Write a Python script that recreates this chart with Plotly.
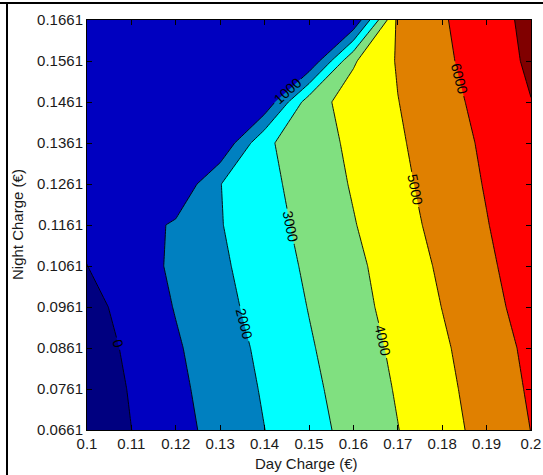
import plotly.graph_objects as go

# ---- data ----
day_charge = [0.10, 0.11, 0.12, 0.13, 0.14, 0.15, 0.16, 0.17, 0.18, 0.19, 0.20]
night_charge = [0.0661, 0.0761, 0.0861, 0.0961, 0.1061, 0.1161,
                0.1261, 0.1361, 0.1461, 0.1561, 0.1661]

# one row per night charge value (bottom to top), one column per day charge value
row_00661 = [-681, -5, 671, 1337, 1993, 2658, 3319, 3979, 4652, 5328, 6011]
row_00761 = [-627, 74, 774, 1441, 2095, 2778, 3433, 4080, 4753, 5431, 6114]
row_00861 = [-509, 191, 890, 1548, 2211, 2905, 3546, 4191, 4864, 5537, 6213]
row_00961 = [-333, 361, 1050, 1706, 2367, 3032, 3681, 4342, 5015, 5700, 6385]
row_01061 = [-9, 565, 1162, 1835, 2498, 3151, 3784, 4458, 5149, 5831, 6514]
row_01161 = [200, 450, 1159, 1952, 2618, 3283, 3948, 4629, 5302, 5960, 6622]
row_01261 = [150, 120, 100, 1980, 2721, 3416, 4084, 4761, 5420, 6069, 6731]
row_01361 = [150, 120, 100, 100, 2850, 3500, 4210, 4873, 5522, 6169, 6831]
row_01461 = [150, 120, 100, 100, 213, 3546, 4430, 4979, 5652, 6323, 6980]
row_01561 = [150, 120, 100, 100, 100, 100, 3900, 5085, 5805, 6489, 7162]
row_01661 = [150, 120, 100, 100, 100, 100, 100, 5220, 5905, 6576, 7248]

x_tick_labels = ["0.1", "0.11", "0.12", "0.13", "0.14", "0.15",
                 "0.16", "0.17", "0.18", "0.19", "0.2"]
y_tick_labels = ["0.0661", "0.0761", "0.0861", "0.0961", "0.1061", "0.1161",
                 "0.1261", "0.1361", "0.1461", "0.1561", "0.1661"]

level_start, level_end, level_step = 0, 7000, 1000

# fill colour of each band: below 0, 0-1000, ..., 6000-7000, above 7000
band_colors = ["#000080", "#0000C0", "#0080C0", "#00FFFF", "#80E080",
               "#FFFF00", "#E08000", "#FF0000", "#800000"]

z = [row_00661, row_00761, row_00861, row_00961, row_01061, row_01161,
     row_01261, row_01361, row_01461, row_01561, row_01661]

# discrete colour scale (one flat step per band)
n = len(band_colors)
colorscale = []
for k, c in enumerate(band_colors):
    lo = max(0.0, (k - 0.5) / (n - 1))
    hi = min(1.0, (k + 0.5) / (n - 1))
    colorscale.append([lo, c])
    colorscale.append([hi, c])

FONT = "Liberation Sans, Arial, sans-serif"
TXT = "#1a1a1a"

fig = go.Figure(go.Contour(
    x=day_charge, y=night_charge, z=z,
    autocontour=False,
    contours=dict(start=level_start, end=level_end, size=level_step,
                  coloring="fill", showlabels=True,
                  labelfont=dict(family=FONT, size=14, color="black")),
    line=dict(color="black", width=0.9, smoothing=0),
    colorscale=colorscale,
    showscale=False,
    hoverinfo="skip",
))

W, H = 543, 475
L, R, T, B = 87, 12, 20, 45
pw, ph = W - L - R, H - T - B

def px_x(p):
    return (p - L) / pw

def px_y(p):
    return (H - B - p) / ph

# outer frame lines seen at the top and left of the picture
fig.add_shape(type="line", xref="paper", yref="paper",
              x0=px_x(0), x1=px_x(W), y0=px_y(3), y1=px_y(3),
              line=dict(color="black", width=2))
fig.add_shape(type="line", xref="paper", yref="paper",
              x0=px_x(7), x1=px_x(7), y0=px_y(3), y1=px_y(H),
              line=dict(color="black", width=2))

axis_common = dict(
    showgrid=False, zeroline=False, automargin=False,
    showline=True, linecolor="black", linewidth=1, mirror="ticks",
    ticks="inside", ticklen=5, tickcolor="black",
    tickfont=dict(family=FONT, size=15, color=TXT),
)

fig.update_xaxes(
    range=[day_charge[0], day_charge[-1]],
    tickmode="array", tickvals=day_charge, ticktext=x_tick_labels,
    **axis_common,
)
fig.update_yaxes(
    range=[night_charge[0], night_charge[-1]],
    tickmode="array", tickvals=night_charge, ticktext=y_tick_labels,
    **axis_common,
)

# axis titles placed as annotations to match the reference positions
fig.add_annotation(text="Day Charge (€)", xref="paper", yref="paper",
                   x=px_x(306), y=px_y(463), showarrow=False,
                   xanchor="center", yanchor="middle",
                   font=dict(family=FONT, size=15, color=TXT))
fig.add_annotation(text="Night Charge (€)", xref="paper", yref="paper",
                   x=px_x(17), y=px_y(225), showarrow=False, textangle=-90,
                   xanchor="center", yanchor="middle",
                   font=dict(family=FONT, size=15, color=TXT))

fig.update_layout(
    width=W, height=H,
    margin=dict(l=L, r=R, t=T, b=B, autoexpand=False),
    paper_bgcolor="white", plot_bgcolor="white",
    font=dict(family=FONT),
    showlegend=False,
)

fig.write_html("out.html",
               config={"displayModeBar": False},
               post_script="document.body.style.margin='0';"
                           "document.body.style.overflow='hidden';")
